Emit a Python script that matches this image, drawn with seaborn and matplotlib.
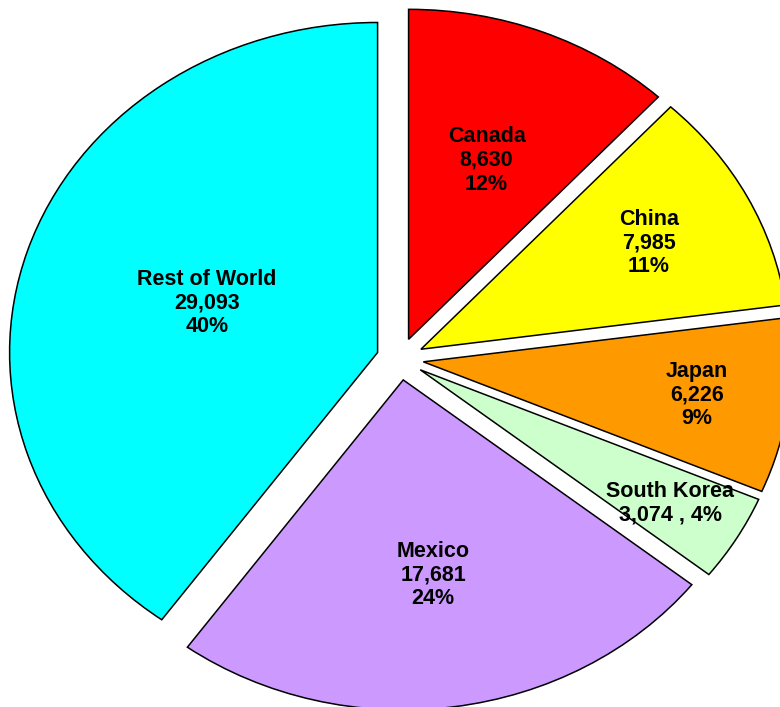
import numpy as np
import matplotlib
matplotlib.use("Agg")
import matplotlib.pyplot as plt
import seaborn as sns

# Import volumes by source country
countries = ["Canada", "China", "Japan", "South Korea", "Mexico", "Rest of World"]
values = [8630, 7985, 6226, 3074, 17681, 29093]
colors = ["#FF0000", "#FFFF00", "#FF9900", "#CCFFCC", "#CC99FF", "#00FFFF"]

sns.set_theme(style="white")
plt.rcParams["font.family"] = ["Liberation Sans", "DejaVu Sans"]

fig = plt.figure(figsize=(7.8, 7.07), dpi=100)
ax = fig.add_axes([0, 0, 1, 1])

explode = [0.064] * len(values)
wedges, _ = ax.pie(
    values,
    colors=colors,
    explode=explode,
    startangle=90,
    counterclock=False,
    wedgeprops=dict(edgecolor="black", linewidth=1.1),
)

# Stretch the pie horizontally and let it run past the right and bottom edges
ax.set_aspect("auto")
ax.set_xlim(-400 / 368, 380 / 368)
ax.set_ylim(-348 / 330, 359 / 330)
ax.axis("off")

total = sum(values)
label_radius = [0.646, 0.762, 0.815, 0.854, 0.66, 0.551]
for w, name, v, r in zip(wedges, countries, values, label_radius):
    mid = np.deg2rad((w.theta1 + w.theta2) / 2)
    x, y = r * np.cos(mid), r * np.sin(mid)
    pct = round(100 * v / total)
    if name == "South Korea":
        txt = f"{name}\n{v:,} , {pct}%"
    else:
        txt = f"{name}\n{v:,}\n{pct}%"
    ax.text(x, y, txt, ha="center", va="center", fontsize=15.5,
            fontweight="bold", linespacing=1.17, color="black")

fig.savefig("out.png", dpi=100)
